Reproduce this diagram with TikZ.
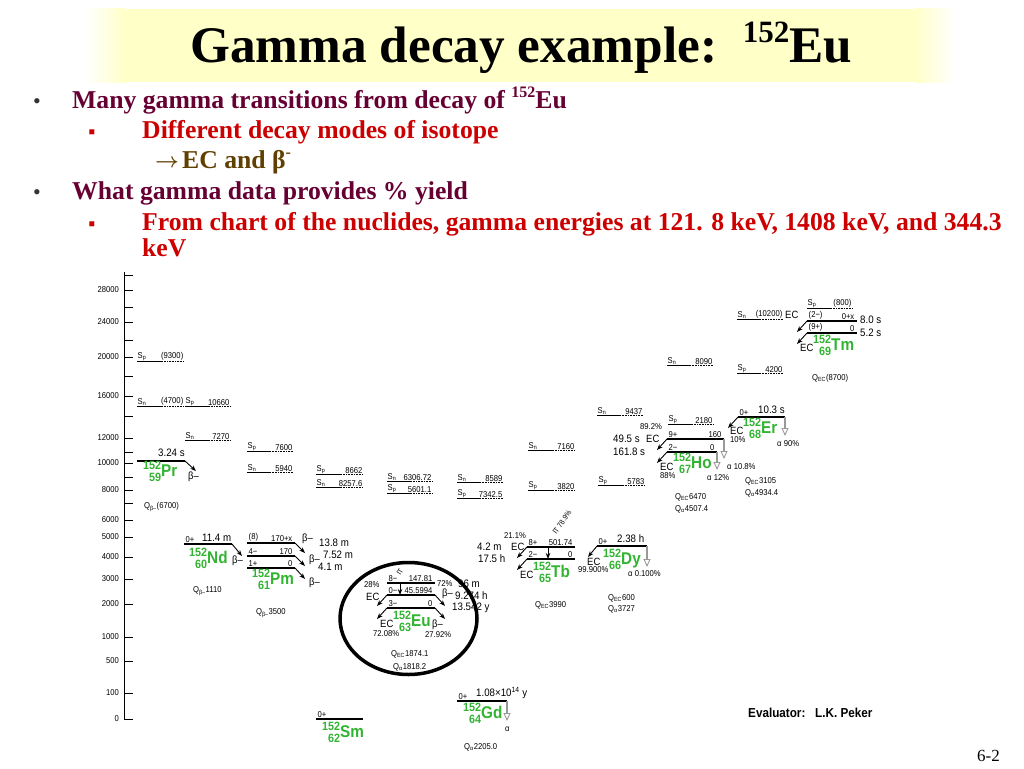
\documentclass[tikz,border=0pt]{standalone}
\usepackage{fontspec}
\setmainfont{Liberation Serif}
\newfontfamily\chartfont[FakeStretch=0.9]{Liberation Sans}
\usetikzlibrary{arrows.meta,calc}

\definecolor{bulletpurple}{RGB}{102,0,51}
\definecolor{bulletred}{RGB}{204,0,0}
\definecolor{bulletbrown}{RGB}{96,64,0}
\definecolor{isogreen}{RGB}{50,180,50}
\definecolor{titleyellow}{RGB}{255,255,200}

% level line: name, x1, x2, y, spin, energy
\newcommand{\levline}[6]{%
  \coordinate (#1-l) at (#2,#4);
  \coordinate (#1-r) at (#3,#4);
  \draw[lvl] (#1-l) -- (#1-r);
  \node[sm,anchor=south west] (#1-spin) at ($(#1-l)+(1,-1)$) {#5};
  \node[sm,anchor=south east] (#1-en) at ($(#1-r)+(-2,-1)$) {#6};}

% separation energy: name, x1, x2, y, label, value
\newcommand{\sepline}[6]{%
  \coordinate (#1-a) at (#2,#4);
  \coordinate (#1-b) at (#3,#4);
  \coordinate (#1-m) at ($(#1-a)!0.5!(#1-b)$);
  \draw[sline] (#1-a) -- (#1-m);
  \draw[sline,densely dotted] (#1-m) -- (#1-b);
  \node[sm,anchor=south west] (#1-lab) at (#1-a) {#5};
  \node[sm,anchor=south east] (#1-val) at (#1-b) {#6};}

% decay arrow: style, start, end name, offset
\newcommand{\decarrow}[4]{%
  \coordinate (#3) at ($(#2)+(#4)$);
  \draw[#1] (#2) -- (#3);}

\newcommand{\nuclide}[3]{{\fontsize{12}{11.5}\selectfont\begin{tabular}[c]{@{}r@{}}#1\\#2\end{tabular}}{\fontsize{17}{17}\selectfont#3}}

\begin{document}
\begin{tikzpicture}[x=1pt,y=-1pt,
  lvl/.style={line width=1.5pt},
  sline/.style={line width=0.6pt},
  sm/.style={inner sep=0.5pt,font=\chartfont\fontsize{8.5}{9}\selectfont},
  pc/.style={sm,inner sep=0pt,anchor=west},
  md/.style={inner sep=0pt,anchor=west,font=\chartfont\fontsize{10.5}{11}\selectfont},
  hl/.style={inner sep=0pt,anchor=west,font=\chartfont\fontsize{10.8}{12}\selectfont},
  iso/.style={inner sep=0pt,anchor=west,yshift=-3pt,text=isogreen,font=\chartfont\bfseries},
  tick/.style={inner sep=0pt,anchor=east,font=\chartfont\fontsize{8.5}{9}\selectfont},
  itlab/.style={inner sep=0pt,font=\chartfont\fontsize{7.5}{8}\selectfont},
  dk/.style={line width=0.9pt,-{Stealth[length=6pt,width=4.5pt]}},
  al/.style={gray!80,line width=1.3pt,-{Triangle[open,length=8pt,width=7pt,line width=0.9pt]}},
  bul/.style={anchor=base west,inner sep=0pt,font=\fontsize{25.7}{30}\selectfont\bfseries}]
\useasboundingbox (0,0) rectangle (1024,768);

% title
\fill[titleyellow] (125,9) rectangle (915,82);
\shade[left color=white,right color=titleyellow] (85,9) rectangle (125,82);
\shade[left color=titleyellow,right color=white] (915,9) rectangle (955,82);
\node[anchor=base west,inner sep=0pt,font=\fontsize{51.3}{60}\selectfont\bfseries] (title) at (190,63)
  {Gamma decay example:\ \ \raisebox{0.4em}{\fontsize{31}{31}\selectfont 152}Eu};

% bullets
\node[anchor=base,text=black!80,font=\fontsize{22}{24}\selectfont] (b1) at (37,108) {\textbullet};
\node[bul,text=bulletpurple] (t1) at (72,108) {Many gamma transitions from decay of \raisebox{0.4em}{\fontsize{16}{16}\selectfont 152}Eu};
\node[anchor=base,text=bulletred,font=\fontsize{20}{24}\selectfont] (b2) at (92,138) {▪};
\node[bul,text=bulletred] (t2) at (142,138) {Different decay modes of isotope};
\node[anchor=base,text=bulletbrown,font=\fontsize{20}{24}\selectfont\boldmath] (b3) at (167,167) {$\rightarrow$};
\node[bul,text=bulletbrown] (t3) at (182,168) {EC and β\raisebox{0.4em}{\fontsize{16}{16}\selectfont -}};
\node[anchor=base,text=black!80,font=\fontsize{22}{24}\selectfont] (b4) at (37,199) {\textbullet};
\node[bul,text=bulletpurple] (t4) at (72,199) {What gamma data provides \% yield};
\node[anchor=base,text=bulletred,font=\fontsize{20}{24}\selectfont] (b5) at (92,230) {▪};
\node[bul,text=bulletred] (t5) at (142,230) {From chart of the nuclides, gamma energies at 121. 8 keV, 1408 keV, and 344.3};
\node[bul,text=bulletred] (t6) at (142,256) {keV};

% energy axis
\draw[line width=0.8pt] (124,272) -- (124,719);
\foreach \y/\lab in {275/,290/28000,307/,322/24000,340/,357/20000,376/,396/16000,416/,438/12000,452/,
                     463/10000,477/,490/8000,503/,520/6000,537/5000,557/4000,579/3000,604/2000,
                     637/1000,661/500,693/100,719/0}{
  \draw[line width=0.8pt] (124,\y) -- (133,\y);
  \node[tick] (tk\y) at (119,\y) {\lab};
}

% Pr
\sepline{Pr-sp}{137}{184}{361}{S\textsubscript{p}}{(9300)}
\sepline{Pr-sn}{137}{184}{406}{S\textsubscript{n}}{(4700)}
\levline{Pr}{137}{185}{461}{}{}
\node[hl] (Pr-t) at (158,453) {3.24 s};
\decarrow{dk}{Pr-r}{Pr-b}{11,10}
\node[md] (Pr-m) at (188,477) {β–};
\node[iso] (Pr) at (143,470) {\nuclide{152}{59}{Pr}};
\node[pc] (Pr-q) at (144,507) {Q\textsubscript{β–}(6700)};

% Nd
\sepline{Nd-sp}{185}{230}{406}{S\textsubscript{p}}{10660}
\sepline{Nd-sn}{185}{230}{440}{S\textsubscript{n}}{7270}
\levline{Nd}{184}{232}{544}{0+}{}
\node[hl] (Nd-t) at (202,538) {11.4 m};
\decarrow{dk}{Nd-r}{Nd-b}{10,12}
\node[md] (Nd-m) at (232,561) {β–};
\node[iso] (Nd) at (189,557) {\nuclide{152}{60}{Nd}};
\node[pc] (Nd-q) at (193,591) {Q\textsubscript{β–}1110};

% Pm
\sepline{Pm-sp}{247}{293}{451}{S\textsubscript{p}}{7600}
\sepline{Pm-sn}{247}{293}{472}{S\textsubscript{n}}{5940}
\levline{PmA}{247}{295}{543}{(8)}{170+x}
\levline{PmB}{247}{295}{556}{4−}{170}
\levline{PmC}{247}{295}{568}{1+}{0}
\decarrow{dk}{PmA-r}{PmA-b}{10,10}
\decarrow{dk}{PmB-r}{PmB-b}{10,10}
\decarrow{dk}{PmC-r}{PmC-b}{10,11}
\node[md] (PmA-m) at (302,539) {β–};
\node[hl] (PmA-t) at (319,543) {13.8 m};
\node[md] (PmB-m) at (309,560) {β–};
\node[hl] (PmB-t) at (323,555) {7.52 m};
\node[hl] (PmC-t) at (318,567) {4.1 m};
\node[md] (PmC-m) at (309,583) {β–};
\node[iso] (Pm) at (252,578) {\nuclide{152}{61}{Pm}};
\node[pc] (Pm-q) at (256,613) {Q\textsubscript{β–}3500};

% Sm
\sepline{Sm-sp}{316}{363}{474}{S\textsubscript{p}}{8662}
\sepline{Sm-sn}{316}{363}{487}{S\textsubscript{n}}{8257.6}
\levline{Sm}{316}{363}{719}{0+}{}
\node[iso] (Sm) at (322,731) {\nuclide{152}{62}{Sm}};

% Eu
\sepline{Eu-sn}{387}{432}{481}{S\textsubscript{n}}{6306.72}
\sepline{Eu-sp}{387}{432}{493}{S\textsubscript{p}}{5601.1}
\levline{EuA}{387}{435}{583}{8−}{147.81}
\levline{EuB}{387}{435}{595}{0−}{45.5994}
\levline{EuC}{387}{435}{608}{3−}{0}
\coordinate (EuA-it) at (400,583);
\coordinate (EuB-it) at (400,595);
\draw[dk] (EuA-it) -- (EuB-it);
\node[itlab,rotate=60] (Eu-it) at (400,572) {IT};
\decarrow{dk}{EuB-l}{EuB-ec}{-10,11}
\decarrow{dk}{EuC-l}{EuC-ec}{-10,11}
\decarrow{dk}{EuB-r}{EuB-bm}{10,11}
\decarrow{dk}{EuC-r}{EuC-bm}{10,11}
\node[pc] (EuB-p) at (364,585) {28\%};
\node[md] (EuB-m) at (366,597) {EC};
\node[pc] (EuB-q) at (437,584) {72\%};
\node[md] (EuB-b) at (442,594) {β–};
\node[hl] (EuA-t) at (458,584) {96 m};
\node[hl] (EuB-t) at (455,596) {9.274 h};
\node[hl] (EuC-t) at (452,608) {13.542 y};
\node[md] (EuC-m) at (380,624) {EC};
\node[pc] (EuC-p) at (373,634) {72.08\%};
\node[md] (EuC-b) at (432,625) {β–};
\node[pc] (EuC-q) at (425,635) {27.92\%};
\node[iso] (Eu) at (393,620) {\nuclide{152}{63}{Eu}};
\node[pc] (Eu-qec) at (391,654) {Q\textsubscript{EC}1874.1};
\node[pc] (Eu-qa) at (393,667) {Q\textsubscript{α}1818.2};
\draw[line width=3.5pt] (408.5,618.5) ellipse [x radius=68.5pt,y radius=56pt];

% Gd
\sepline{Gd-sn}{457}{503}{482}{S\textsubscript{n}}{8589}
\sepline{Gd-sp}{457}{503}{498}{S\textsubscript{p}}{7342.5}
\levline{Gd}{457}{507}{701}{0+}{}
\node[hl] (Gd-t) at (476,693) {1.08×10\textsuperscript{14} y};
\decarrow{al}{Gd-r}{Gd-a}{0,20}
\node[pc] (Gd-m) at (505,729) {α};
\node[iso] (Gd) at (463,712) {\nuclide{152}{64}{Gd}};
\node[pc] (Gd-q) at (464,747) {Q\textsubscript{α}2205.0};

% Tb
\sepline{Tb-sn}{528}{575}{450}{S\textsubscript{n}}{7160}
\sepline{Tb-sp}{528}{575}{490}{S\textsubscript{p}}{3820}
\levline{TbA}{527}{575}{547}{8+}{501.74}
\levline{TbB}{527}{575}{559}{2−}{0}
\coordinate (TbA-it) at (548,547);
\coordinate (TbB-it) at (548,559);
\draw[dk] (TbA-it) -- (TbB-it);
\node[itlab,rotate=55] (Tb-it) at (562,522) {IT 78.9\%};
\decarrow{dk}{TbA-l}{TbA-ec}{-10,11}
\decarrow{dk}{TbB-l}{TbB-ec}{-10,11}
\node[pc] (TbA-p) at (504,536) {21.1\%};
\node[hl] (TbA-t) at (477,547) {4.2 m};
\node[md] (TbA-m) at (511,547) {EC};
\node[hl] (TbB-t) at (478,559) {17.5 h};
\node[md] (TbB-m) at (520,575) {EC};
\node[iso] (Tb) at (533,571) {\nuclide{152}{65}{Tb}};
\node[pc] (Tb-q) at (535,605) {Q\textsubscript{EC}3990};

% Dy
\sepline{Dy-sn}{597}{643}{415}{S\textsubscript{n}}{9437}
\sepline{Dy-sp}{598}{645}{485}{S\textsubscript{p}}{5783}
\levline{Dy}{597}{647}{546}{0+}{}
\node[hl] (Dy-t) at (617,539) {2.38 h};
\decarrow{dk}{Dy-l}{Dy-ec}{-9,11}
\decarrow{al}{Dy-r}{Dy-a}{0,21}
\node[md] (Dy-m) at (587,562) {EC};
\node[pc] (Dy-p) at (578,570) {99.900\%};
\node[pc] (Dy-ap) at (628,574) {α 0.100\%};
\node[iso] (Dy) at (603,558) {\nuclide{152}{66}{Dy}};
\node[pc] (Dy-qec) at (608,598) {Q\textsubscript{EC}600};
\node[pc] (Dy-qa) at (608,609) {Q\textsubscript{α}3727};

% Ho
\sepline{Ho-sn}{667}{713}{365}{S\textsubscript{n}}{8090}
\sepline{Ho-sp}{668}{713}{424}{S\textsubscript{p}}{2180}
\levline{HoA}{667}{724}{439}{9+}{160}
\levline{HoB}{667}{717}{452}{2−}{0}
\decarrow{dk}{HoA-l}{HoA-ec}{-10,11}
\decarrow{dk}{HoB-l}{HoB-ec}{-10,11}
\decarrow{al}{HoA-r}{HoA-a}{0,20}
\decarrow{al}{HoB-r}{HoB-a}{0,18}
\node[pc] (HoA-p) at (640,427) {89.2\%};
\node[hl] (HoA-t) at (613,439) {49.5 s};
\node[md] (HoA-m) at (646,439) {EC};
\node[hl] (HoB-t) at (613,452) {161.8 s};
\node[md] (HoB-m) at (660,467) {EC};
\node[pc] (HoB-p) at (660,476) {88\%};
\node[pc] (HoA-ap) at (727,467) {α 10.8\%};
\node[pc] (HoB-ap) at (707,478) {α 12\%};
\node[iso] (Ho) at (673,462) {\nuclide{152}{67}{Ho}};
\node[pc] (Ho-qec) at (675,497) {Q\textsubscript{EC}6470};
\node[pc] (Ho-qa) at (675,509) {Q\textsubscript{α}4507.4};

% Er
\sepline{Er-sn}{737}{783}{319}{S\textsubscript{n}}{(10200)}
\sepline{Er-sp}{737}{783}{373}{S\textsubscript{p}}{4200}
\levline{Er}{738}{785}{417}{0+}{}
\node[hl] (Er-t) at (758,410) {10.3 s};
\decarrow{dk}{Er-l}{Er-ec}{-10,11}
\decarrow{al}{Er-r}{Er-a}{0,19}
\node[md] (Er-m) at (730,431) {EC};
\node[pc] (Er-p) at (730,440) {10\%};
\node[pc] (Er-ap) at (777,444) {α 90\%};
\node[iso] (Er) at (743,427) {\nuclide{152}{68}{Er}};
\node[pc] (Er-qec) at (745,481) {Q\textsubscript{EC}3105};
\node[pc] (Er-qa) at (745,493) {Q\textsubscript{α}4934.4};

% Tm
\sepline{Tm-sp}{807}{852}{308}{S\textsubscript{p}}{(800)}
\levline{TmA}{807}{857}{321}{(2−)}{0+x}
\levline{TmB}{807}{857}{333}{(9+)}{0}
\node[md] (TmA-m) at (785,315) {EC};
\node[hl] (TmA-t) at (860,320) {8.0 s};
\node[hl] (TmB-t) at (860,333) {5.2 s};
\decarrow{dk}{TmA-l}{TmA-ec}{-10,11}
\decarrow{dk}{TmB-l}{TmB-ec}{-10,11}
\node[md] (TmB-m) at (800,348) {EC};
\node[iso] (Tm) at (813,344) {\nuclide{152}{69}{Tm}};
\node[pc] (Tm-q) at (812,378) {Q\textsubscript{EC}(8700)};

\node[anchor=west,inner sep=0pt,font=\chartfont\bfseries\fontsize{13}{14}\selectfont] (eval) at (748,713) {Evaluator:\ \ \ L.K. Peker};
\node[anchor=base east,inner sep=0pt,font=\fontsize{17}{18}\selectfont] (page) at (1000,761) {6-2};
\end{tikzpicture}
\end{document}
